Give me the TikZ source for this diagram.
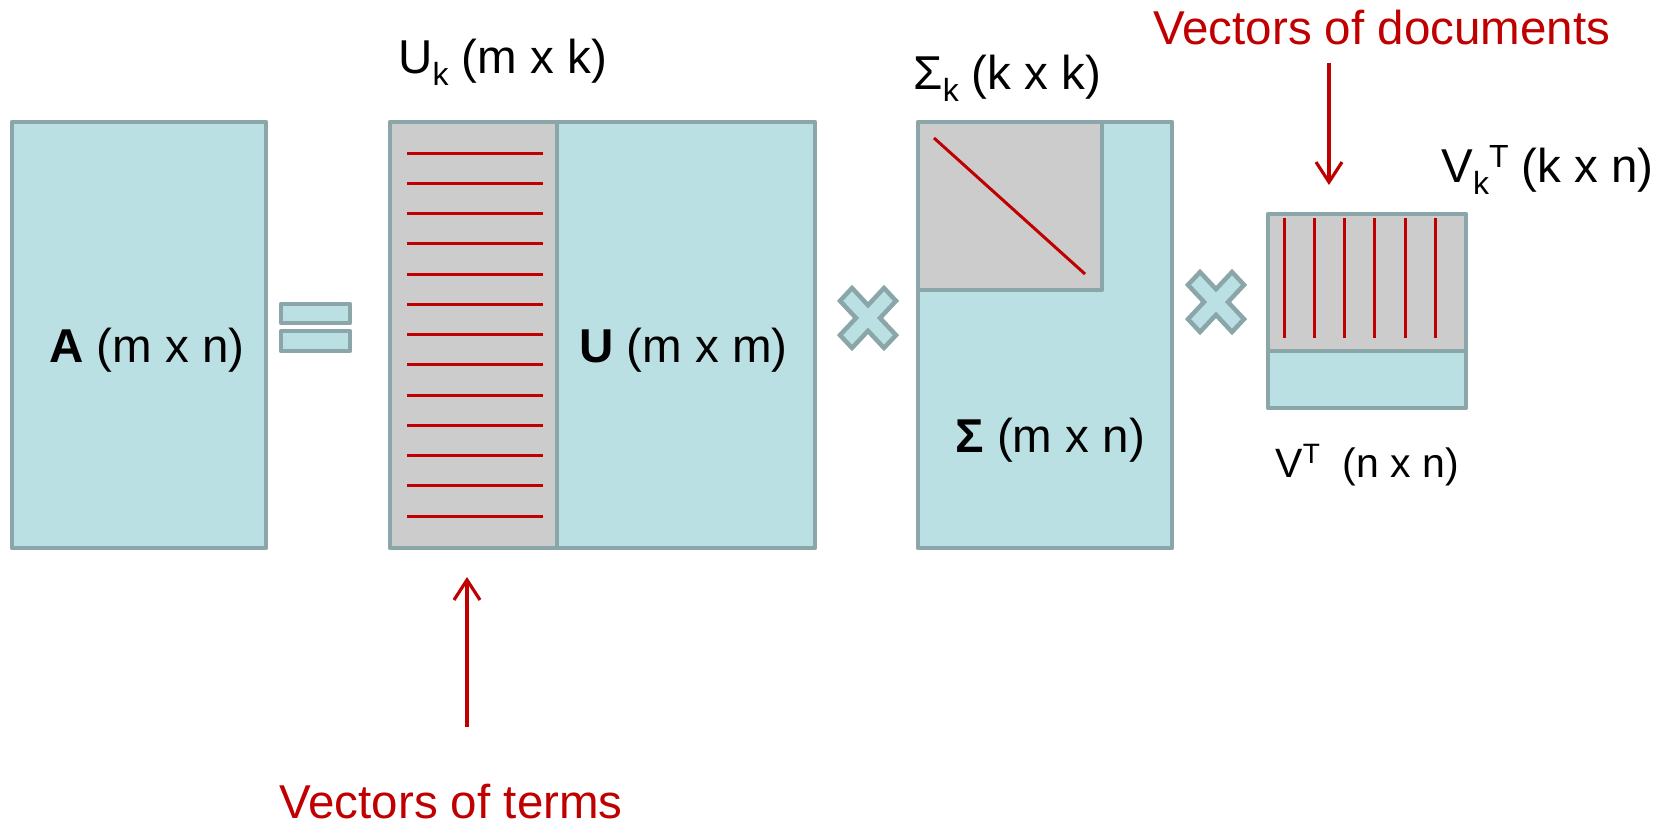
\documentclass[tikz,border=0pt]{standalone}
\usepackage{fontspec}
\setmainfont{Liberation Sans}
\usetikzlibrary{arrows.meta}
\definecolor{matfill}{HTML}{BBE0E3}
\definecolor{matline}{HTML}{8BA6A9}
\definecolor{matgrey}{HTML}{CCCCCC}
\definecolor{vecred}{HTML}{C00000}
\newcommand\lsub[1]{\raisebox{-6pt}{\fontsize{16}{16}\selectfont #1}}
\newcommand\lsup[1]{\raisebox{7.5pt}{\fontsize{16}{16}\selectfont #1}}
\newcommand\ssup[1]{\raisebox{7pt}{\fontsize{14}{14}\selectfont #1}}
\begin{document}
\begin{tikzpicture}[x=0.5pt,y=-0.5pt,
  matbox/.style={draw=matline, fill=matfill, line width=2.25pt, line join=round},
  outline/.style={draw=matline, line width=2.25pt, line join=round},
  redline/.style={draw=vecred, line width=1.5pt},
  lbl/.style={font=\fontsize{23.75}{28}\selectfont, inner sep=0pt, anchor=base west},
  smalllbl/.style={lbl, font=\fontsize{20.5}{24}\selectfont},
  redlbl/.style={lbl, text=vecred},
  pointer/.style={draw=vecred, line width=1.6pt, -{Straight Barb[length=10pt,width=13pt]}},
  crossmark/.style={draw=matline, fill=matfill, line width=2.25pt, line join=miter},
  crosspic/.pic={
    \draw[crossmark] (0,-12) -- (16,-28) -- (28,-16) -- (12,0) -- (28,16) -- (16,28)
      -- (0,12) -- (-16,28) -- (-28,16) -- (-12,0) -- (-28,-16) -- (-16,-28) -- cycle;
  }
]
\useasboundingbox (0,0) rectangle (1668,825);

% A matrix
\draw[matbox] (12,122) rectangle (266,548);
\node[lbl] (Alabel) at (49,362) {\textbf{A} (m x n)};

% equals sign
\draw[matbox] (281,304) rectangle (350,323);
\draw[matbox] (281,331) rectangle (350,351);

% U matrix
\fill[matfill] (390,122) rectangle (815,548);
\fill[matgrey] (390,122) rectangle (557,548);
\foreach \i in {0,...,12} \draw[redline] (407,{153+30.25*\i}) -- (543,{153+30.25*\i});
\draw[outline] (390,122) rectangle (815,548);
\draw[outline] (557,122) -- (557,548);
\node[lbl] (Ulabel) at (579,362) {\textbf{U} (m x m)};
\node[lbl] (Uklabel) at (398,73) {U\lsub{k} (m x k)};

% first multiply sign
\pic[yscale=1.07] at (868,318) {crosspic};

% Sigma matrix
\fill[matfill] (918,122) rectangle (1172,548);
\fill[matgrey] (918,122) rectangle (1102,290);
\draw[redline] (934,138) -- (1085,274);
\draw[outline] (918,122) rectangle (1172,548);
\draw[outline] (918,290) -| (1102,122);
\node[lbl] (Slabel) at (955,452) {\textbf{Σ} (m x n)};
\node[lbl] (Sklabel) at (913,89) {Σ\lsub{k} (k x k)};

% second multiply sign
\pic[yscale=1.07] at (1216,302) {crosspic};

% V^T matrix
\fill[matfill] (1268,214) rectangle (1466,408);
\fill[matgrey] (1268,214) rectangle (1466,351);
\foreach \x in {1284,1314,1344,1374,1405,1435} \draw[redline] (\x,218) -- (\x,338);
\draw[outline] (1268,214) rectangle (1466,408);
\draw[outline] (1268,351) -- (1466,351);
\node[smalllbl] (VTlabel) at (1275,477) {V\ssup{T}\ \ (n x n)};
\node[lbl] (VkTlabel) at (1441,182) {V\lsub{k}\lsup{T} (k x n)};

% annotations
\node[redlbl] (docs) at (1153,44) {Vectors of documents};
\coordinate (docTail) at (1329,63);
\coordinate (docHead) at (1329,185);
\draw[pointer] (docTail) -- (docHead);

\node[redlbl] (terms) at (279,818) {Vectors of terms};
\coordinate (termTail) at (467,727);
\coordinate (termHead) at (467,577);
\draw[pointer] (termTail) -- (termHead);
\end{tikzpicture}
\end{document}
